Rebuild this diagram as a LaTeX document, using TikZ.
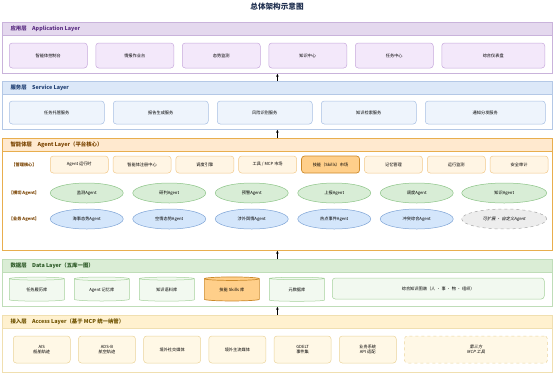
\documentclass[tikz,border=0pt]{standalone}
\usepackage{fontspec}
\setmainfont{Noto Sans CJK SC}
\newfontfamily\slantfont[FakeSlant=0.2]{Noto Sans CJK SC}
\usetikzlibrary{arrows.meta, positioning, shapes.geometric}
\definecolor{appedge}{HTML}{C9B3DB}
\definecolor{apphead}{HTML}{E4D8EE}
\definecolor{appfill}{HTML}{F3E8FA}
\definecolor{appline}{HTML}{C7A8DC}
\definecolor{apptext}{HTML}{5A2D82}
\definecolor{svcedge}{HTML}{B4C8E6}
\definecolor{svchead}{HTML}{DCE8F8}
\definecolor{svcfill}{HTML}{EEF4FC}
\definecolor{svcline}{HTML}{A8C0E4}
\definecolor{svctext}{HTML}{1F3F73}
\definecolor{agtedge}{HTML}{E8AE4E}
\definecolor{agthead}{HTML}{FFE9CF}
\definecolor{agtfill}{HTML}{FFF5E4}
\definecolor{agtline}{HTML}{F2C98A}
\definecolor{agttext}{HTML}{7A4300}
\definecolor{skillfill}{HTML}{FFCF8A}
\definecolor{skillline}{HTML}{CC8A2A}
\definecolor{grnfill}{HTML}{D8EDD6}
\definecolor{grnline}{HTML}{8CC487}
\definecolor{bluefill}{HTML}{D4E6FB}
\definecolor{blueline}{HTML}{7EA4D6}
\definecolor{grayfill}{HTML}{EDEDED}
\definecolor{grayline}{HTML}{A8A8A8}
\definecolor{datedge}{HTML}{BFDDB8}
\definecolor{dathead}{HTML}{DAEDD5}
\definecolor{datfill}{HTML}{F2F9F0}
\definecolor{datline}{HTML}{A6D29C}
\definecolor{dattext}{HTML}{2D5A27}
\definecolor{accedge}{HTML}{F0DFB0}
\definecolor{acchead}{HTML}{FFF1CF}
\definecolor{accfill}{HTML}{FFF8E6}
\definecolor{accline}{HTML}{EBD49A}
\definecolor{acctext}{HTML}{6E5200}
\definecolor{titletext}{HTML}{1F2F4F}
\begin{document}
\begin{tikzpicture}[
  x=1pt, y=-1pt,
  font=\fontsize{4.2}{5}\selectfont,
  layerbox/.style={draw, line width=0.8pt, fill=white, inner sep=0pt, anchor=north west, minimum width=550},
  headbar/.style={draw, line width=0.8pt, inner sep=0pt, anchor=north west, minimum width=550, minimum height=12.5},
  headtext/.style={anchor=west, font=\fontsize{5.4}{6}\selectfont\bfseries},
  boxnode/.style={draw, line width=0.5pt, rounded corners=3pt, inner sep=1pt, align=center},
  appnode/.style={boxnode, fill=appfill, draw=appline, minimum width=78, minimum height=25},
  svcnode/.style={boxnode, fill=svcfill, draw=svcline, minimum width=95, minimum height=23},
  mgmtnode/.style={boxnode, fill=agtfill, draw=agtline, minimum width=58, minimum height=17},
  skillnode/.style={mgmtnode, fill=skillfill, draw=skillline, line width=0.7pt},
  rowlabel/.style={text=agttext, font=\fontsize{4.2}{5}\selectfont\bfseries},
  agentell/.style={ellipse, draw, line width=0.5pt, inner sep=0pt, minimum width=73, minimum height=20},
  helpagent/.style={agentell, fill=grnfill, draw=grnline},
  bizagent/.style={agentell, fill=bluefill, draw=blueline},
  extagent/.style={agentell, fill=grayfill, draw=grayline, dashed, font=\fontsize{4.2}{5}\slantfont},
  dbnode/.style={cylinder, shape border rotate=90, aspect=0.14, draw=datline, fill=datfill, line width=0.5pt, inner sep=0pt, minimum width=55, minimum height=24},
  skilldb/.style={dbnode, fill=skillfill, draw=skillline, line width=0.7pt},
  graphnode/.style={boxnode, fill=datfill, draw=datline, minimum width=212, minimum height=21},
  srcnode/.style={boxnode, fill=accfill, draw=accline, minimum width=57, minimum height=27},
  extsrc/.style={srcnode, dashed, font=\fontsize{4.2}{5}\slantfont},
  upflow/.style={-{Stealth[length=3pt, width=2.6pt]}, line width=0.5pt, black}
]
\useasboundingbox (0,0) rectangle (554,373);

\node[font=\fontsize{7.6}{9}\selectfont\bfseries, text=titletext] (title) at (277,7) {总体架构示意图};

% application layer
\node[layerbox, draw=appedge, minimum height=51] (app) at (2,22) {};
\node[headbar, draw=appedge, fill=apphead] (apph) at (2,22) {};
\node[headtext, text=apptext] at ([xshift=5pt]apph.west) {应用层\quad Application Layer};
\node[appnode, anchor=west] (a1) at (9,55.5) {智能体控制台};
\node[appnode, right=8pt of a1] (a2) {情报作业台};
\node[appnode, right=8pt of a2] (a3) {态势监测};
\node[appnode, right=8pt of a3] (a4) {知识中心};
\node[appnode, right=8pt of a4] (a5) {任务中心};
\node[appnode, right=8pt of a5, minimum width=103] (a6) {综合仪表盘};

% service layer
\node[layerbox, draw=svcedge, minimum height=48] (svc) at (2,81) {};
\node[headbar, draw=svcedge, fill=svchead] (svch) at (2,81) {};
\node[headtext, text=svctext] at ([xshift=5pt]svch.west) {服务层\quad Service Layer};
\node[svcnode, anchor=west] (s1) at (9,112.5) {任务托管服务};
\node[svcnode, right=8.5pt of s1] (s2) {报告生成服务};
\node[svcnode, right=8.5pt of s2] (s3) {风险识别服务};
\node[svcnode, right=8.5pt of s3] (s4) {知识检索服务};
\node[svcnode, right=8.5pt of s4, minimum width=120] (s5) {通知分发服务};

% agent layer
\node[layerbox, draw=agtedge, minimum height=112] (agt) at (2,138) {};
\node[headbar, draw=agtedge, fill=agthead] (agth) at (2,138) {};
\node[headtext, text=agttext] at ([xshift=5pt]agth.west) {智能体层\quad Agent Layer（平台核心）};
\node[rowlabel] (lbm) at (24,164.5) {【管理核心】};
\node[rowlabel] (lbh) at (24,193) {【横切 Agent】};
\node[rowlabel] (lbb) at (24,219) {【业务 Agent】};
\node[mgmtnode, anchor=west] (m1) at (50,164.5) {Agent 运行时};
\node[mgmtnode, right=4.3pt of m1] (m2) {智能体注册中心};
\node[mgmtnode, right=4.3pt of m2] (m3) {调度引擎};
\node[mgmtnode, right=4.3pt of m3] (m4) {工具 / MCP 市场};
\node[skillnode, right=4.3pt of m4] (m5) {技能（Skills）市场};
\node[mgmtnode, right=4.3pt of m5] (m6) {记忆管理};
\node[mgmtnode, right=4.3pt of m6] (m7) {运行监测};
\node[mgmtnode, right=4.3pt of m7] (m8) {安全审计};
\node[helpagent, anchor=west] (h1) at (50,193) {监测Agent};
\node[helpagent, right=9pt of h1] (h2) {研判Agent};
\node[helpagent, right=9pt of h2] (h3) {预警Agent};
\node[helpagent, right=9pt of h3] (h4) {上报Agent};
\node[helpagent, right=9pt of h4] (h5) {调度Agent};
\node[helpagent, right=8pt of h5, minimum width=85] (h6) {知识Agent};
\node[bizagent, anchor=west] (b1) at (50,219) {海事态势Agent};
\node[bizagent, right=9pt of b1] (b2) {空情态势Agent};
\node[bizagent, right=9pt of b2] (b3) {涉外舆情Agent};
\node[bizagent, right=9pt of b3] (b4) {热点事件Agent};
\node[bizagent, right=9pt of b4] (b5) {冲突综合Agent};
\node[extagent, right=8pt of b5, minimum width=85] (b6) {可扩展 · 自定义Agent};

% data layer
\node[layerbox, draw=datedge, minimum height=47] (dat) at (2,259) {};
\node[headbar, draw=datedge, fill=dathead] (dath) at (2,259) {};
\node[headtext, text=dattext] at ([xshift=5pt]dath.west) {数据层\quad Data Layer（五库一图）};
\node[dbnode, anchor=west] (d1) at (9,290) {任务履历库};
\node[dbnode, right=9.5pt of d1] (d2) {Agent 记忆库};
\node[dbnode, right=9.5pt of d2] (d3) {知识语料库};
\node[skilldb, right=9.5pt of d3] (d4) {技能 Skills 库};
\node[dbnode, right=9.5pt of d4] (d5) {元数据库};
\node[graphnode, anchor=west] (kg) at (332,288.5) {综合知识图谱（人 · 事 · 物 · 组织）};

% access layer
\node[layerbox, draw=accedge, minimum height=57] (acc) at (2,315) {};
\node[headbar, draw=accedge, fill=acchead] (acch) at (2,315) {};
\node[headtext, text=acctext] at ([xshift=5pt]acch.west) {接入层\quad Access Layer（基于 MCP 统一纳管）};
\node[srcnode, anchor=west] (c1) at (13,349.5) {AIS\\船舶轨迹};
\node[srcnode, right=7.7pt of c1] (c2) {ADS-B\\航空轨迹};
\node[srcnode, right=7.7pt of c2] (c3) {境外社交媒体};
\node[srcnode, right=7.7pt of c3] (c4) {境外主流媒体};
\node[srcnode, right=7.7pt of c4] (c5) {GDELT\\事件集};
\node[srcnode, right=7.7pt of c5] (c6) {业务系统\\API 适配};
\node[extsrc, right=7.7pt of c6, minimum width=143] (c7) {第三方\\MCP 工具};

% upward flow
\draw[upflow] (svc.north) -- (app.south);
\draw[upflow] (agt.north) -- (svc.south);
\draw[upflow] (dat.north) -- (agt.south);
\draw[upflow] (acc.north) -- (dat.south);
\end{tikzpicture}
\end{document}
